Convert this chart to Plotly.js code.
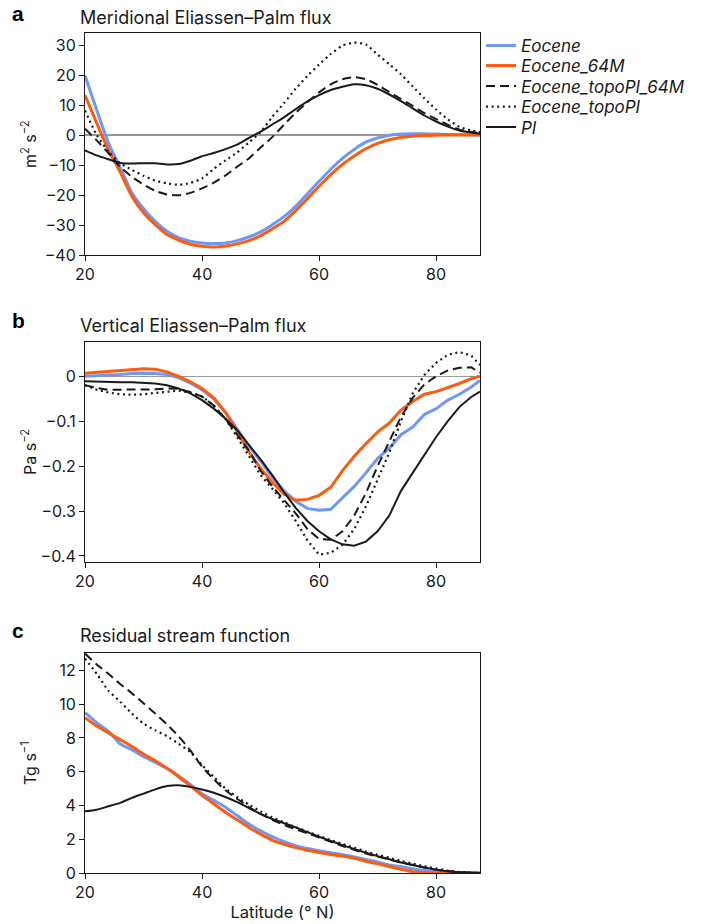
<!DOCTYPE html>
<html>
<head>
<meta charset="utf-8">
<script src="https://cdn.plot.ly/plotly-3.0.1.min.js"></script>
<style>
  html, body { margin: 0; padding: 0; background: #fff; }
  #chart { width: 704px; height: 924px; }
</style>
</head>
<body>
<div id="chart"></div>
<script>
// Latitude grid (° N)
const lat = [20, 22, 24, 26, 28, 30, 32, 34, 36, 38, 40, 42, 44, 46, 48, 50, 52, 54, 56, 58,
             60, 62, 64, 66, 68, 70, 72, 74, 76, 78, 80, 82, 84, 86, 87.5];

const seriesNames = ['Eocene', 'Eocene_64M', 'Eocene_topoPI_64M', 'Eocene_topoPI', 'PI'];

// (a) Meridional Eliassen–Palm flux, m2 s-2
const merEocene = [19.8, 8.3, -2.6, -10.8, -19.2, -24.6, -28.8, -32.1, -34.2, -35.4, -36.0, -36.2, -36.0, -35.2, -34.0, -32.3, -29.9, -27.2, -23.8, -19.6,
                   -15.4, -11.4, -7.8, -4.8, -2.4, -1.0, -0.1, 0.3, 0.4, 0.4, 0.3, 0.2, 0.1, 0.05, 0];
const merEocene64M = [13.2, 4.0, -5.0, -12.3, -20.4, -25.9, -29.9, -33.2, -35.0, -36.4, -37.1, -37.3, -37.0, -36.3, -35.2, -33.6, -31.3, -28.8, -25.2, -21.2,
                      -17.1, -13.2, -9.8, -7.0, -4.6, -2.8, -1.6, -0.8, -0.4, -0.15, -0.05, 0, 0, 0, 0];
const merTopoPI64M = [2.1, -1.8, -6.0, -10.6, -13.9, -16.5, -18.6, -19.8, -20.1, -19.3, -17.8, -15.9, -13.5, -10.6, -7.8, -4.2, -0.7, 3.4, 7.4, 10.9,
                      14.2, 16.9, 18.6, 19.3, 18.6, 16.7, 14.3, 12.0, 9.7, 7.3, 5.3, 3.4, 1.8, 1.0, 0.7];
const merTopoPI = [8.2, 0.0, -5.5, -9.4, -11.6, -13.6, -15.2, -16.1, -16.6, -16.0, -14.5, -11.3, -8.5, -5.8, -2.5, 1.0, 6.0, 10.6, 15.4, 19.7,
                   23.5, 27.0, 29.8, 30.8, 30.2, 26.8, 23.6, 20.2, 16.2, 12.2, 8.5, 5.2, 2.7, 1.5, 1.0];
const merPI = [-5.1, -6.8, -8.1, -9.3, -9.5, -9.4, -9.4, -9.8, -9.7, -8.6, -7.1, -6.0, -4.7, -3.2, -1.0, 1.1, 3.5, 5.9, 8.6, 11.2,
               13.3, 15.0, 16.1, 16.9, 16.6, 15.4, 13.5, 11.3, 8.9, 6.5, 4.5, 2.8, 1.5, 0.8, 0.4];

// (b) Vertical Eliassen–Palm flux, Pa s-2
const verEocene = [0.000, 0.001, 0.002, 0.004, 0.006, 0.007, 0.006, 0.004, -0.003, -0.015, -0.030, -0.050, -0.080, -0.117, -0.155, -0.188, -0.225, -0.255, -0.278, -0.294,
                   -0.298, -0.296, -0.270, -0.245, -0.215, -0.183, -0.160, -0.130, -0.113, -0.085, -0.072, -0.053, -0.040, -0.024, -0.009];
const verEocene64M = [0.007, 0.009, 0.011, 0.013, 0.016, 0.017, 0.016, 0.010, 0.000, -0.012, -0.027, -0.048, -0.080, -0.122, -0.168, -0.205, -0.236, -0.262, -0.276, -0.274,
                      -0.265, -0.247, -0.210, -0.178, -0.150, -0.124, -0.104, -0.075, -0.056, -0.040, -0.034, -0.025, -0.016, -0.005, 0.000];
const verTopoPI64M = [-0.020, -0.026, -0.030, -0.030, -0.030, -0.030, -0.029, -0.027, -0.028, -0.035, -0.045, -0.065, -0.095, -0.130, -0.165, -0.210, -0.245, -0.275, -0.305, -0.340,
                      -0.362, -0.364, -0.345, -0.310, -0.260, -0.200, -0.145, -0.090, -0.048, -0.018, 0.000, 0.013, 0.019, 0.020, 0.008];
const verTopoPI = [-0.020, -0.030, -0.036, -0.040, -0.041, -0.040, -0.037, -0.034, -0.032, -0.036, -0.045, -0.065, -0.095, -0.135, -0.178, -0.220, -0.250, -0.282, -0.322, -0.365,
                   -0.397, -0.393, -0.375, -0.340, -0.290, -0.230, -0.170, -0.100, -0.038, 0.003, 0.030, 0.048, 0.054, 0.046, 0.025];
const verPI = [-0.011, -0.012, -0.013, -0.013, -0.013, -0.014, -0.016, -0.020, -0.027, -0.038, -0.053, -0.072, -0.094, -0.120, -0.152, -0.185, -0.220, -0.258, -0.293, -0.322,
               -0.345, -0.363, -0.374, -0.377, -0.368, -0.345, -0.310, -0.255, -0.215, -0.175, -0.135, -0.100, -0.068, -0.046, -0.034];

// (c) Residual stream function, Tg s-1
const resEocene = [9.5, 8.9, 8.4, 7.65, 7.3, 6.9, 6.55, 6.2, 5.75, 5.25, 4.7, 4.3, 3.9, 3.4, 2.9, 2.5, 2.15, 1.85, 1.62, 1.45,
                   1.32, 1.2, 1.08, 0.95, 0.8, 0.65, 0.48, 0.38, 0.25, 0.15, 0.08, 0.04, 0.02, 0.01, 0];
const resEocene64M = [9.2, 8.7, 8.3, 7.9, 7.5, 7.05, 6.65, 6.2, 5.7, 5.15, 4.6, 4.1, 3.6, 3.15, 2.7, 2.3, 1.95, 1.7, 1.5, 1.35,
                      1.22, 1.1, 1.0, 0.87, 0.7, 0.55, 0.38, 0.22, 0.08, 0.02, 0, 0, 0, 0, 0];
const resTopoPI64M = [13.0, 12.35, 11.8, 11.2, 10.65, 10.05, 9.45, 8.8, 8.1, 7.26, 6.3, 5.55, 4.9, 4.4, 3.9, 3.5, 3.15, 2.85, 2.6, 2.35,
                      2.1, 1.85, 1.6, 1.38, 1.15, 0.97, 0.8, 0.63, 0.47, 0.32, 0.2, 0.1, 0.04, 0.01, 0];
const resTopoPI = [12.7, 11.8, 10.8, 10.15, 9.45, 8.85, 8.45, 8.1, 7.65, 7.16, 6.38, 5.7, 5.0, 4.5, 4.05, 3.65, 3.3, 3.0, 2.72, 2.45,
                   2.2, 1.95, 1.72, 1.5, 1.27, 1.08, 0.9, 0.72, 0.56, 0.4, 0.27, 0.14, 0.06, 0.02, 0];
const resPI = [3.65, 3.75, 3.95, 4.15, 4.45, 4.7, 4.95, 5.15, 5.2, 5.1, 4.95, 4.75, 4.5, 4.2, 3.85, 3.5, 3.2, 2.95, 2.7, 2.42,
               2.15, 1.9, 1.65, 1.42, 1.2, 1.0, 0.82, 0.62, 0.48, 0.33, 0.2, 0.1, 0.04, 0.01, 0];

const FONT = 'Inter, "Noto Sans", "DejaVu Sans", sans-serif';
const INK = '#1a1a1a';

// Line style per experiment
const styles = [
  { color: '#6f97f6', width: 3, dash: 'solid' },
  { color: '#ff5b0d', width: 3, dash: 'solid' },
  { color: '#1a1a1a', width: 2, dash: '9px,5px' },
  { color: '#1a1a1a', width: 2.2, dash: '2px,3.6px' },
  { color: '#1a1a1a', width: 2, dash: 'solid' }
];

const panels = [
  { series: [merEocene, merEocene64M, merTopoPI64M, merTopoPI, merPI], xa: 'x', ya: 'y', shape: 'spline' },
  { series: [verEocene, verEocene64M, verTopoPI64M, verTopoPI, verPI], xa: 'x2', ya: 'y2', shape: 'linear' },
  { series: [resEocene, resEocene64M, resTopoPI64M, resTopoPI, resPI], xa: 'x3', ya: 'y3', shape: 'spline' }
];

// one legend box per experiment so the entries sit at a fixed spacing
const legendIds = ['legend', 'legend2', 'legend3', 'legend4', 'legend5'];

const traces = [];
panels.forEach((p, pi) => {
  p.series.forEach((vals, si) => {
    traces.push({
      type: 'scatter',
      mode: 'lines',
      x: lat,
      y: vals,
      xaxis: p.xa,
      yaxis: p.ya,
      name: '<i>' + seriesNames[si] + '</i>',
      legend: legendIds[si],
      showlegend: pi === 0,
      line: { color: styles[si].color, width: styles[si].width, dash: styles[si].dash,
              shape: p.shape, smoothing: 0.6 },
      hoverinfo: 'skip'
    });
  });
});

// Layout geometry (pixels): plot areas span x 85–480; panels at y 33–255, 342–562, 653–873
const H = 924, T = 33, B = 51, PH = H - T - B;
const py = pix => 1 - (pix - T) / PH;
const px = pix => (pix - 85) / 395;

function xAxis(anchor, extra) {
  return Object.assign({
    anchor: anchor, domain: [0, 1], range: [20, 87.5],
    tickvals: [20, 40, 60, 80], ticks: 'outside', ticklen: 5, tickwidth: 1, tickcolor: INK,
    showline: true, linecolor: INK, linewidth: 1, mirror: true,
    showgrid: false, zeroline: false,
    tickfont: { family: FONT, size: 16, color: INK }
  }, extra || {});
}
function yAxis(anchor, domain, range, dtick, extra) {
  return Object.assign({
    anchor: anchor, domain: domain, range: range, dtick: dtick, tick0: 0,
    ticks: 'outside', ticklen: 5, tickwidth: 1, tickcolor: INK,
    showline: true, linecolor: INK, linewidth: 1, mirror: true,
    showgrid: false, zeroline: false,
    tickfont: { family: FONT, size: 16, color: INK }
  }, extra || {});
}

const zeroStyle = { zeroline: true, zerolinecolor: '#999999', zerolinewidth: 1.5 };

const annotations = [];
function label(text, xpix, ypix, opts) {
  annotations.push(Object.assign({
    text: text, xref: 'paper', yref: 'paper',
    x: px(xpix), y: py(ypix),
    xanchor: 'left', yanchor: 'middle', showarrow: false,
    font: { family: FONT, size: 18, color: INK }
  }, opts || {}));
}
const letterFont = { family: '"Liberation Sans", Arial, sans-serif', size: 21, color: '#000' };
// panel letters
label('<b>a</b>', 10, 13, { font: letterFont });
label('<b>b</b>', 10, 320, { font: letterFont });
label('<b>c</b>', 10, 630, { font: letterFont });
// panel titles
label('Meridional Eliassen–Palm flux', 78, 17);
label('Vertical Eliassen–Palm flux', 78, 325);
label('Residual stream function', 78, 635);
// y-axis titles
const yTitle = { textangle: -90, xanchor: 'center', font: { family: FONT, size: 16, color: INK } };
label('m<sup>2</sup> s<sup>−2</sup>', 29, 144, yTitle);
label('Pa s<sup>−2</sup>', 29, 452, yTitle);
label('Tg s<sup>−1</sup>', 29, 763, yTitle);

function legendBox(ypix) {
  return {
    x: px(481), y: py(ypix), xanchor: 'left', yanchor: 'middle',
    bgcolor: 'rgba(0,0,0,0)', borderwidth: 0,
    font: { family: FONT, size: 17, color: INK },
    itemwidth: 30
  };
}
const legendRows = [46, 66, 86.5, 107, 127.5];

const layout = {
  width: 704, height: H,
  margin: { l: 85, r: 224, t: T, b: B },
  paper_bgcolor: '#fff', plot_bgcolor: '#fff',
  font: { family: FONT, color: INK },
  showlegend: true,
  xaxis: xAxis('y'),
  xaxis2: xAxis('y2'),
  xaxis3: xAxis('y3', { title: { text: 'Latitude (° N)', font: { family: FONT, size: 16.5, color: INK }, standoff: 5 } }),
  yaxis: yAxis('x', [py(255), py(33)], [-40, 34], 10, zeroStyle),
  yaxis2: yAxis('x2', [py(562), py(342)], [-0.4134, 0.0764], 0.1, zeroStyle),
  yaxis3: yAxis('x3', [py(873), py(653)], [0, 13.03], 2),
  annotations: annotations
};
legendIds.forEach((id, i) => { layout[id] = legendBox(legendRows[i]); });

Plotly.newPlot('chart', traces, layout, { displayModeBar: false, staticPlot: true });
</script>
</body>
</html>
